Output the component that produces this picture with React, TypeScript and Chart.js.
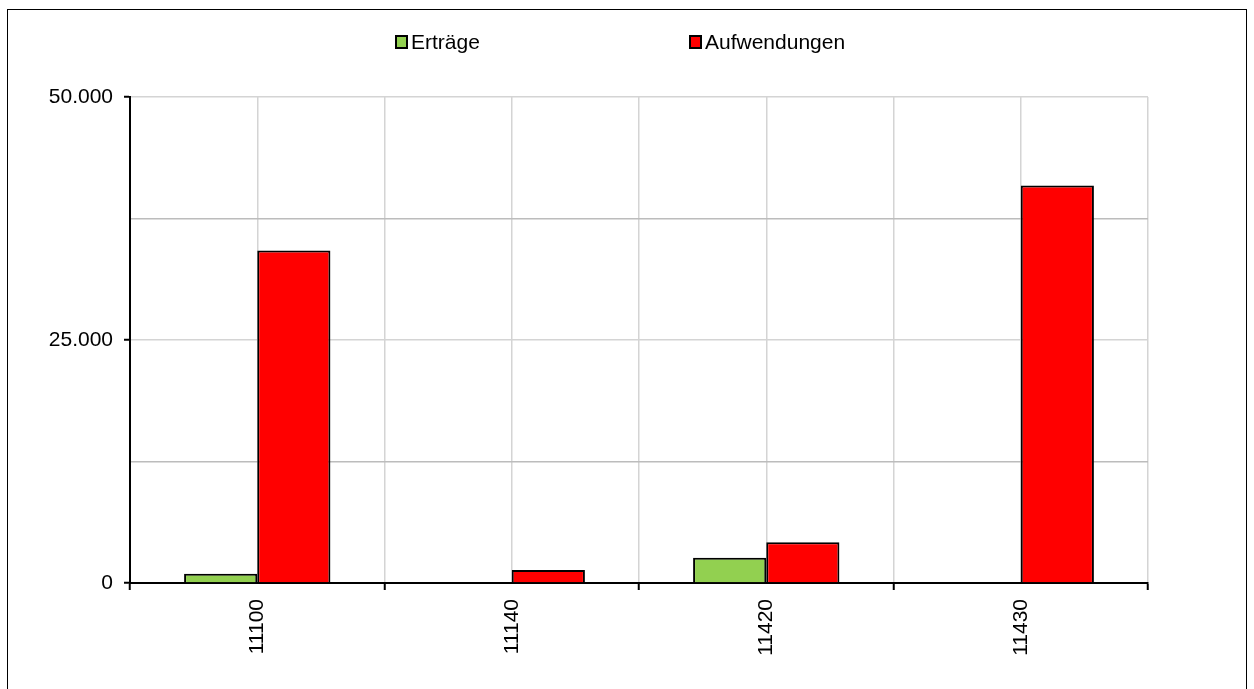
import React, { useEffect, useRef } from "react";
import { Chart, registerables } from "chart.js";

Chart.register(...registerables);

const categories = ["11100", "11140", "11420", "11430"];
const ertraege = [950, 0, 2600, 0];
const aufwendungen = [34200, 1340, 4200, 40900];
const seriesLabels = ["Erträge", "Aufwendungen"];
const seriesColors = ["#92d050", "#ff0000"];
const yMax = 50000;
const yStep = 12500;
const yLabelStep = 25000;

const FONT = "'Liberation Sans', Arial, sans-serif";

const fmt = (v: number) =>
  v.toLocaleString("de-DE", { maximumFractionDigits: 0 });

const legendPlugin = {
  id: "customLegend",
  afterDraw(chart: any) {
    const ctx = chart.ctx;
    const xs = [388, 682];
    const y = 32;
    ctx.save();
    ctx.font = `21px ${FONT}`;
    ctx.textBaseline = "middle";
    ctx.textAlign = "left";
    chart.data.datasets.forEach((ds: any, i: number) => {
      const x = xs[i];
      ctx.fillStyle = ds.backgroundColor;
      ctx.fillRect(x, y - 6, 11, 12);
      ctx.strokeStyle = "#000";
      ctx.lineWidth = 2;
      ctx.strokeRect(x, y - 6, 11, 12);
      ctx.fillStyle = "#000";
      ctx.fillText(ds.label, x + 15, y + 1);
    });
    ctx.restore();
  },
};

export default function App() {
  const ref = useRef<HTMLCanvasElement | null>(null);
  useEffect(() => {
    if (!ref.current) return;
    const chart = new Chart(ref.current, {
      type: "bar",
      data: {
        labels: categories,
        datasets: [
          {
            label: seriesLabels[0],
            data: ertraege,
            backgroundColor: seriesColors[0],
            borderColor: "#000",
            borderWidth: 2,
            categoryPercentage: 0.575,
            barPercentage: 1,
          },
          {
            label: seriesLabels[1],
            data: aufwendungen,
            backgroundColor: seriesColors[1],
            borderColor: "#000",
            borderWidth: 2,
            categoryPercentage: 0.575,
            barPercentage: 1,
          },
        ],
      },
      options: {
        animation: false,
        responsive: false,
        layout: { padding: { top: 87, right: 98, left: 0, bottom: 0 } },
        plugins: {
          legend: { display: false },
          tooltip: { enabled: false },
        },
        scales: {
          x: {
            offset: true,
            grid: {
              offset: true,
              color: "#d4d4d4",
              lineWidth: 1.5,
              drawTicks: true,
              tickLength: 7,
              tickColor: "#000",
              tickWidth: 2,
            },
            border: { display: true, color: "#000", width: 2 },
            ticks: {
              minRotation: 90,
              maxRotation: 90,
              padding: 9,
              color: "#000",
              font: { family: FONT, size: 21 },
            },
            afterFit: (s: any) => {
              s.height = 107;
            },
          },
          x2: {
            type: "category",
            labels: categories,
            position: "bottom",
            offset: true,
            grid: {
              offset: false,
              color: "#d4d4d4",
              lineWidth: 1.5,
              drawTicks: false,
            },
            border: { display: false },
            ticks: { display: false },
            afterFit: (s: any) => {
              s.height = 0;
            },
          },
          y: {
            min: 0,
            max: yMax,
            ticks: {
              stepSize: yStep,
              padding: 11,
              color: "#000",
              font: { family: FONT, size: 21 },
              callback: (v: any) => (Number(v) % yLabelStep === 0 ? fmt(Number(v)) : ""),
            },
            grid: {
              drawTicks: true,
              tickLength: 6,
              tickWidth: 2,
              lineWidth: 1.5,
              color: (c: any) =>
                c.tick && c.tick.value === 0
                  ? "rgba(0,0,0,0)"
                  : c.tick && c.tick.value % yLabelStep === 0
                  ? "#d4d4d4"
                  : "#bcbcbc",
              tickColor: (c: any) =>
                c.tick && c.tick.value % yLabelStep === 0 ? "#000" : "rgba(0,0,0,0)",
            },
            border: { display: true, color: "#000", width: 2 },
            afterFit: (s: any) => {
              s.width = 122;
            },
          },
        },
      },
      plugins: [legendPlugin],
    });
    return () => chart.destroy();
  }, []);

  return (
    <div
      style={{
        position: "fixed",
        left: 7,
        top: 9,
        width: 1238,
        height: 690,
        border: "1px solid #000",
        background: "#fff",
      }}
    >
      <canvas ref={ref} width={1238} height={680} style={{ display: "block" }} />
    </div>
  );
}
